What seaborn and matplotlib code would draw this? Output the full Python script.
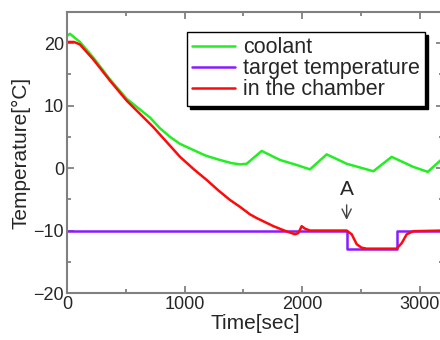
import matplotlib
matplotlib.use("Agg")
import matplotlib.pyplot as plt
from matplotlib.ticker import MultipleLocator
import seaborn as sns
import pandas as pd

coolant_t = [0, 25, 110, 224, 366, 508, 620, 706, 790, 877, 960, 1075, 1180, 1302, 1400, 1472, 1529, 1657, 1813, 1955, 2068, 2210, 2380, 2607, 2763, 2947, 3070, 3200]
coolant_T = [21.2, 21.5, 20.2, 17.7, 14.2, 11.1, 9.4, 8.1, 6.4, 5.0, 3.9, 2.9, 2.0, 1.3, 0.8, 0.6, 0.7, 2.75, 1.3, 0.5, -0.2, 2.2, 0.7, -0.5, 1.8, 0.2, -0.6, 1.6]

target_t = [0, 2380, 2380, 2810, 2810, 3200]
target_T = [-10, -10, -13, -13, -10, -10]

chamber_t = [0, 60, 110, 224, 366, 508, 735, 962, 1080, 1189, 1290, 1387, 1472, 1557, 1614, 1757, 1843, 1940, 1969, 1997, 2026, 2068, 2380, 2423, 2466, 2508, 2550, 2806, 2849, 2891, 2947, 3200]
chamber_T = [20.2, 20.2, 19.8, 17.4, 14.0, 10.8, 6.55, 1.8, -0.2, -1.9, -3.6, -5.1, -6.2, -7.4, -8.0, -9.3, -9.95, -10.6, -10.4, -9.3, -9.7, -10.0, -10.0, -10.6, -12.2, -12.75, -12.9, -12.9, -12.0, -10.6, -10.1, -10.0]

labels = ["coolant", "target temperature", "in the chamber"]
colors = ["#22ee22", "#8a1aff", "#ff0a0a"]

frames = []
for lab, t, T in zip(labels, [coolant_t, target_t, chamber_t], [coolant_T, target_T, chamber_T]):
    frames.append(pd.DataFrame({"t": t, "T": T, "series": lab}))
df = pd.concat(frames, ignore_index=True)

sns.set_style("ticks")
plt.rcParams["font.family"] = ["Liberation Sans", "DejaVu Sans"]

fig = plt.figure(figsize=(4.4, 3.4), dpi=100)
ax = fig.add_axes([67/440, 47/340, (443-67)/440, (293-12)/340])

sns.lineplot(data=df, x="t", y="T", hue="series", palette=dict(zip(labels, colors)),
             estimator=None, sort=False, units="series", lw=1.8, ax=ax, legend=False)

ax.set_xlim(0, 3200)
ax.set_ylim(-20, 25)
ax.xaxis.set_major_locator(MultipleLocator(1000))
ax.xaxis.set_minor_locator(MultipleLocator(500))
ax.yaxis.set_major_locator(MultipleLocator(10))
ax.yaxis.set_minor_locator(MultipleLocator(5))
ax.set_yticks([-20, -10, 0, 10, 20])
ax.tick_params(which="both", direction="in", top=True, right=True, color="#777777", width=1.2,
               labelsize=13, pad=2)
ax.tick_params(which="major", length=5)
ax.tick_params(which="minor", length=3)
for s in ax.spines.values():
    s.set_color("#808080")
    s.set_linewidth(1.5)

ax.set_xlabel("Time[sec]", fontsize=15, labelpad=1)
ax.set_ylabel("Temperature[°C]", fontsize=15, labelpad=2)

ax.annotate("A", xy=(2380, -8.3), xytext=(2380, -3.4), ha="center", va="center", fontsize=15,
            arrowprops=dict(arrowstyle="->,head_length=0.45,head_width=0.22", color="#444444",
                            lw=1.0, shrinkA=2, shrinkB=0))

handles = [plt.Line2D([], [], color=c, lw=1.8) for c in colors]
leg = ax.legend(handles, labels, loc="upper left", bbox_to_anchor=(187/440, 1-32/340),
                bbox_transform=fig.transFigure, borderaxespad=0, fontsize=15.5, fancybox=False,
                shadow={"color": "black", "alpha": 1}, framealpha=1, handlelength=2.0,
                handletextpad=0.35, labelspacing=0.0, borderpad=0.25)
leg.get_frame().set_edgecolor("black")
leg.get_frame().set_linewidth(1.0)

fig.savefig("out.png", dpi=100)
